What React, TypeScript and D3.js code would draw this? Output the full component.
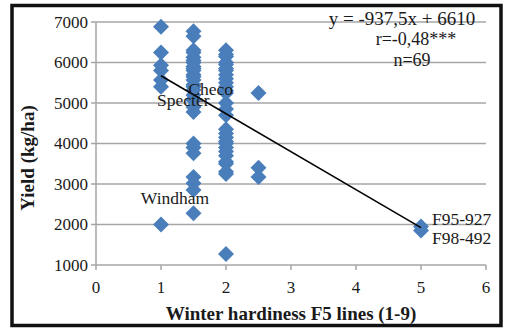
import React from "react";
import * as d3 from "d3";

// ---- data ----
const yieldAtH1 = [6880, 6250, 5930, 5800, 5570, 5400, 2000];
const yieldAtH1_5 = [6770, 6650, 6300, 6250, 6130, 6050, 6000, 5900, 5850, 5800, 5700, 5650, 5570, 5450, 5400, 5320, 5200, 5100, 5070, 4900, 4780, 4000, 3900, 3760, 3170, 3020, 2850, 2280];
const yieldAtH2 = [6300, 6200, 6150, 6000, 5950, 5850, 5800, 5700, 5600, 5500, 5400, 5300, 5250, 5000, 4850, 4700, 4350, 4250, 4150, 4050, 4000, 3900, 3800, 3700, 3550, 3500, 3300, 3250, 1270];
const yieldAtH2_5 = [5250, 3400, 3170];
const yieldAtH5 = [1950, 1850];
const hardinessLevels = [1, 1.5, 2, 2.5, 5];

const xTicks = [0, 1, 2, 3, 4, 5, 6];
const yTicks = [1000, 2000, 3000, 4000, 5000, 6000, 7000];

const slope = -937.5;
const intercept = 6610;
const trendRange = [1, 5];

const pointLabels = ["Checo", "Specter", "Windham", "F95-927", "F98-492"];
const labelX = [1.42, 0.94, 0.69, 5.17, 5.17];
const labelY = [5200, 4930, 2510, 2000, 1530];

const statLines = ["y = -937,5x + 6610", "r=-0,48***", "n=69"];

const xTitle = "Winter hardiness F5 lines (1-9)";
const yTitle = "Yield (kg/ha)";

const W = 505;
const H = 328;
const FONT = "'Liberation Serif', 'Times New Roman', serif";
const BLUE = "#4a7ebb";
const GRID = "#a6a6a6";

export default function App() {
  const x = d3.scaleLinear().domain([0, 6]).range([96, 486]);
  const y = d3.scaleLinear().domain([1000, 7000]).range([265, 22]);

  const groups = [yieldAtH1, yieldAtH1_5, yieldAtH2, yieldAtH2_5, yieldAtH5];
  const points: { h: number; v: number }[] = [];
  groups.forEach((g, i) => g.forEach((v) => points.push({ h: hardinessLevels[i], v })));

  const diamond = "M0,-8L8,0L0,8L-8,0Z";
  const trend = d3
    .line<number>()
    .x((d) => x(d))
    .y((d) => y(slope * d + intercept))(trendRange);

  return (
    <svg
      width={W}
      height={H}
      style={{ position: "absolute", left: 0, top: 0, background: "#fff" }}
      fontFamily={FONT}
    >
      <rect x={0} y={0} width={W} height={H} fill="#fff" />
      {/* gridlines */}
      {yTicks.filter((t) => t !== 1000).map((t) => (
        <line key={t} x1={x(0)} x2={x(6)} y1={y(t)} y2={y(t)} stroke={GRID} strokeWidth={1.5} />
      ))}
      {/* axes */}
      <line x1={x(0)} x2={x(0)} y1={y(7000)} y2={y(1000)} stroke={GRID} strokeWidth={1.5} />
      <line x1={x(0)} x2={x(6)} y1={y(1000)} y2={y(1000)} stroke={GRID} strokeWidth={1.5} />
      {yTicks.map((t) => (
        <line key={"yt" + t} x1={x(0) - 5} x2={x(0)} y1={y(t)} y2={y(t)} stroke={GRID} strokeWidth={1.5} />
      ))}
      {xTicks.map((t) => (
        <line key={"xt" + t} x1={x(t)} x2={x(t)} y1={y(1000)} y2={y(1000) + 5} stroke={GRID} strokeWidth={1.5} />
      ))}
      {/* tick labels */}
      {yTicks.map((t) => (
        <text key={"yl" + t} x={x(0) - 8} y={y(t)} dy="0.35em" textAnchor="end" fontSize={17} fill="#1a1a1a">
          {t}
        </text>
      ))}
      {xTicks.map((t) => (
        <text key={"xl" + t} x={x(t)} y={293} textAnchor="middle" fontSize={17} fill="#1a1a1a">
          {t}
        </text>
      ))}
      {/* points */}
      {points.map((p, i) => (
        <path key={"p" + i} d={diamond} transform={`translate(${x(p.h)},${y(p.v)})`} fill={BLUE} />
      ))}
      {/* trendline */}
      <path d={trend || ""} stroke="#000" strokeWidth={1.5} fill="none" />
      {/* point labels */}
      {pointLabels.map((l, i) => (
        <text key={l} x={x(labelX[i])} y={y(labelY[i])} fontSize={17.5} fill="#1a1a1a">
          {l}
        </text>
      ))}
      {/* stats */}
      <text x={402} y={25} textAnchor="middle" fontSize={19} fill="#1a1a1a">{statLines[0]}</text>
      <text x={416} y={45} textAnchor="middle" fontSize={18} fill="#1a1a1a">{statLines[1]}</text>
      <text x={412} y={66} textAnchor="middle" fontSize={18} fill="#1a1a1a">{statLines[2]}</text>
      {/* axis titles */}
      <text x={291} y={320} textAnchor="middle" fontSize={19} fontWeight="bold" fill="#1a1a1a">
        {xTitle}
      </text>
      <text
        transform={`translate(34,158) rotate(-90)`}
        textAnchor="middle"
        fontSize={19}
        fontWeight="bold"
        fill="#1a1a1a"
      >
        {yTitle}
      </text>
      {/* outer border */}
      <rect x={12} y={5.5} width={489} height={320} fill="none" stroke="#111" strokeWidth={3.5} />
    </svg>
  );
}
